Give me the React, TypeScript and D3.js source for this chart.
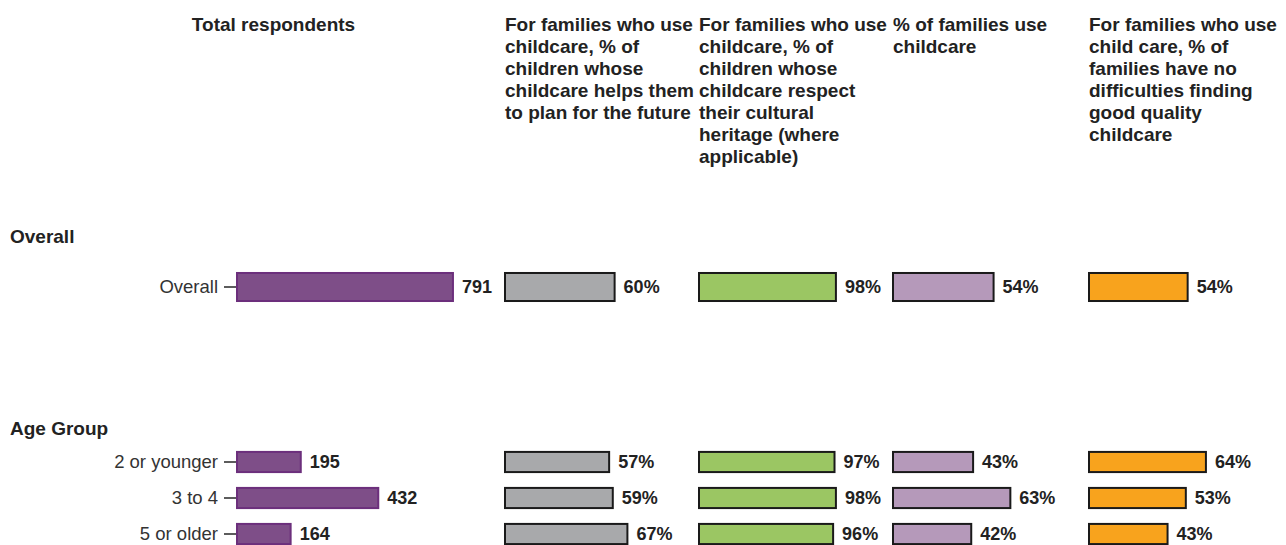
import React from "react";
import * as d3 from "d3";

const sections = ["Overall", "Age Group"];
const overallRows = ["Overall"];
const ageRows = ["2 or younger", "3 to 4", "5 or older"];

const totalOverall = [791];
const totalAge = [195, 432, 164];

const planOverall = [60];
const planAge = [57, 59, 67];
const heritageOverall = [98];
const heritageAge = [97, 98, 96];
const useOverall = [54];
const useAge = [43, 63, 42];
const noDiffOverall = [54];
const noDiffAge = [64, 53, 43];

const headerTotal = "Total respondents";
const headerPlan = ["For families who use", "childcare, % of", "children whose", "childcare helps them", "to plan for the future"];
const headerHeritage = ["For families who use", "childcare, % of", "children whose", "childcare respect", "their cultural", "heritage (where", "applicable)"];
const headerUse = ["% of families use", "childcare"];
const headerNoDiff = ["For families who use", "child care, % of", "families have no", "difficulties finding", "good quality", "childcare"];

// axis domain maxima
const totalOverallDomainMax = 945;
const totalAgeDomainMax = 789;
const pctDomainMax = [104, 136, 102, 104];

const FONT = "'Liberation Sans', Arial, sans-serif";

export default function App() {
  const W = 1286, H = 545;
  const panelW = 190;
  const totalX0 = 237;
  const totalW = 258;
  const pctX0 = [505, 699, 893, 1089];
  const pctFill = ["#a8a9ab", "#9bc663", "#b599ba", "#f8a31d"];
  const pctHeaders = [headerPlan, headerHeritage, headerUse, headerNoDiff];
  const pctOverall = [planOverall, heritageOverall, useOverall, noDiffOverall];
  const pctAge = [planAge, heritageAge, useAge, noDiffAge];

  const yOverall = d3.scaleBand<string>().domain(overallRows).range([266, 308]).paddingInner(0.33).paddingOuter(0.167);
  const yAge = d3.scaleBand<string>().domain(ageRows).range([444, 552]).paddingInner(0.44).paddingOuter(0.22);

  const xTotalOverall = d3.scaleLinear().domain([0, totalOverallDomainMax]).range([totalX0, totalX0 + totalW]);
  const xTotalAge = d3.scaleLinear().domain([0, totalAgeDomainMax]).range([totalX0, totalX0 + totalW]);
  const xPct = pctX0.map((x0, i) => d3.scaleLinear().domain([0, pctDomainMax[i]]).range([x0, x0 + panelW]));

  const sectionY = [236, 428];
  const headerBase = 31;
  const lh = 22;

  const groups = [
    { rows: overallRows, y: yOverall, total: totalOverall, xT: xTotalOverall, pct: pctOverall },
    { rows: ageRows, y: yAge, total: totalAge, xT: xTotalAge, pct: pctAge },
  ];

  return (
    <svg width={W} height={H} style={{ position: "absolute", left: 0, top: 0 }} fontFamily={FONT}>
      <rect width={W} height={H} fill="#fff" />
      <text x={273.5} y={headerBase} textAnchor="middle" fontWeight="bold" fontSize={19} fill="#222">{headerTotal}</text>
      {pctHeaders.map((lines, i) => (
        <text key={i} x={pctX0[i]} y={headerBase} fontWeight="bold" fontSize={19} fill="#222">
          {lines.map((l, j) => (
            <tspan key={j} x={pctX0[i]} y={headerBase + j * lh}>{l}</tspan>
          ))}
        </text>
      ))}
      {sections.map((s, i) => (
        <text key={s} x={10} y={sectionY[i]} dy="0.35em" fontWeight="bold" fontSize={19} fill="#222">{s}</text>
      ))}
      {groups.map((g, gi) => (
        <g key={gi}>
          {g.rows.map((r, ri) => {
            const y0 = g.y(r)!;
            const bw = g.y.bandwidth();
            const cy = y0 + bw / 2;
            return (
              <g key={r}>
                <text x={218} y={cy} dy="0.35em" textAnchor="end" fontSize={18.5} fill="#333">{r}</text>
                <line x1={224} x2={236} y1={cy} y2={cy} stroke="#333" strokeWidth={1.6} />
                <rect x={g.xT(0)} y={y0} width={g.xT(g.total[ri]) - g.xT(0)} height={bw} fill="#7e4e88" stroke="#6c2f7c" strokeWidth={2} />
                <text x={g.xT(g.total[ri]) + 9} y={cy} dy="0.35em" fontWeight="bold" fontSize={18} fill="#222">{g.total[ri]}</text>
                {g.pct.map((vals, pi) => {
                  const x = xPct[pi];
                  const v = vals[ri];
                  return (
                    <g key={pi}>
                      <rect x={x(0)} y={y0} width={x(v) - x(0)} height={bw} fill={pctFill[pi]} stroke="#1a1a1a" strokeWidth={2} />
                      <text x={x(v) + 9} y={cy} dy="0.35em" fontWeight="bold" fontSize={18} fill="#222">{`${v}%`}</text>
                    </g>
                  );
                })}
              </g>
            );
          })}
        </g>
      ))}
    </svg>
  );
}
